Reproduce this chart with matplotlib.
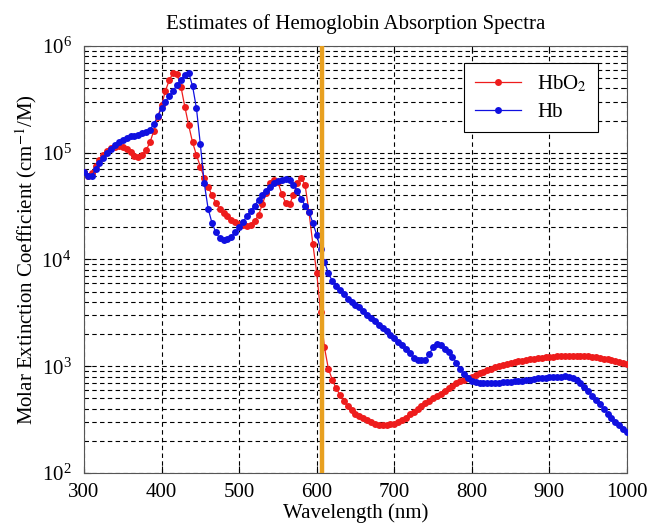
import matplotlib
matplotlib.use("Agg")
import matplotlib.pyplot as plt
from matplotlib.ticker import LogLocator, FixedLocator

plt.rcParams["font.family"] = ["Liberation Serif", "DejaVu Serif"]
plt.rcParams["mathtext.fontset"] = "stix"

# ---------------------------------------------------------------------------
# Data (5 nm steps)
# ---------------------------------------------------------------------------

wavelength = list(range(300, 1001, 5))

hbo2 = [
    66000, 61000, 64000, 75000, 85000, 95000, 104000, 110000, 114000, 116000,
    114000, 108000, 101000, 94000, 92000, 96000, 105000, 125000, 160000, 215000,
    280000, 380000, 480000, 560000, 550000, 415000, 270000, 180000, 125000, 95000,
    74000, 58000, 48000, 40000, 34000, 30000, 27500, 25500, 23500, 22500,
    21500, 21000, 20800, 21000, 23000, 26000, 33000, 42000, 52000, 56000,
    53000, 41000, 34000, 33000, 40000, 52000, 58000, 50000, 28000, 14000,
    7500, 3200, 1500, 950, 750, 620, 540, 470, 420, 390,
    360, 345, 330, 315, 300, 290, 283, 280, 280, 285,
    290, 300, 315, 330, 355, 375, 400, 425, 450, 475,
    500, 525, 555, 590, 620, 650, 690, 720, 750, 775,
    800, 830, 860, 890, 920, 950, 980, 1005, 1030, 1050,
    1070, 1090, 1110, 1130, 1145, 1160, 1175, 1190, 1200, 1210,
    1220, 1230, 1240, 1250, 1255, 1260, 1260, 1260, 1255, 1250,
    1240, 1230, 1215, 1200, 1180, 1160, 1140, 1120, 1100, 1075,
    1050,
]

hb = [
    66000, 60000, 60000, 70000, 80000, 90000, 100000, 108000, 118000, 126000,
    133000, 138000, 142000, 145000, 148000, 152000, 157000, 165000, 185000, 220000,
    260000, 300000, 340000, 380000, 430000, 480000, 540000, 560000, 420000, 260000,
    120000, 52000, 30000, 22000, 18000, 15800, 15200, 15500, 16300, 18000,
    20000, 22500, 25500, 28500, 32000, 36000, 40000, 44000, 48000, 52000,
    54500, 56000, 57000, 55000, 50000, 44000, 37000, 32000, 28000, 22000,
    17000, 12500, 9500, 7500, 6300, 5600, 5200, 4700, 4300, 4000,
    3750, 3550, 3300, 3050, 2850, 2650, 2450, 2280, 2120, 1980,
    1850, 1700, 1580, 1460, 1330, 1200, 1150, 1150, 1150, 1300,
    1500, 1620, 1580, 1450, 1350, 1230, 1080, 940, 850, 780,
    730, 710, 700, 700, 700, 700, 700, 700, 705, 710,
    715, 720, 725, 730, 740, 750, 760, 770, 775, 780,
    785, 790, 795, 800, 805, 800, 780, 740, 700, 640,
    590, 530, 480, 440, 400, 360, 330, 300, 280, 260,
    240,
]

marker_nm = 607
x_ticks = [300, 400, 500, 600, 700, 800, 900, 1000]

# ---------------------------------------------------------------------------
# Plot
# ---------------------------------------------------------------------------

fig = plt.figure(figsize=(6.48, 5.28), dpi=100)
ax = fig.add_axes([0.1296, 0.1042, 0.8380, 0.8087])

ax.plot(wavelength, hbo2, color="#ee1c1c", linewidth=0.9, marker="o",
        markersize=5, markeredgewidth=0, label="HbO$_2$", zorder=3)
ax.plot(wavelength, hb, color="#1010e0", linewidth=0.9, marker="o",
        markersize=5, markeredgewidth=0, label="Hb", zorder=4)
ax.axvline(marker_nm, color="#e8a020", linewidth=3.2, zorder=5)

ax.set_yscale("log")
ax.set_xlim(300, 1000)
ax.set_ylim(1e2, 1e6)
ax.xaxis.set_major_locator(FixedLocator(x_ticks))
ax.yaxis.set_major_locator(LogLocator(base=10, numticks=10))
ax.yaxis.set_minor_locator(LogLocator(base=10, subs=range(2, 10), numticks=20))

ax.grid(True, which="major", axis="both", color="black", linestyle=(0, (4, 3)), linewidth=0.8)
ax.grid(True, which="minor", axis="y", color="black", linestyle=(0, (4, 3)), linewidth=0.8)

ax.tick_params(which="both", direction="in", top=True, right=True, labelsize=15)
ax.tick_params(which="minor", length=3)
ax.tick_params(which="major", length=5)
ax.tick_params(axis="x", pad=7)
ax.tick_params(axis="y", pad=9)
for sp in ax.spines.values():
    sp.set_color("#555555")

ax.set_title("Estimates of Hemoglobin Absorption Spectra", fontsize=15, pad=12)
ax.set_xlabel("Wavelength (nm)", fontsize=15, labelpad=1)
ax.set_ylabel("Molar Extinction Coefficient (cm$^{-1}$/M)", fontsize=15, labelpad=2)

leg = ax.legend(loc="upper right", bbox_to_anchor=(0.965, 0.985), fontsize=15,
                fancybox=False, framealpha=1, edgecolor="black",
                handlelength=2.2, borderpad=0.5, labelspacing=0.4)
leg.get_frame().set_linewidth(0.8)

fig.savefig("out.png", dpi=100)
